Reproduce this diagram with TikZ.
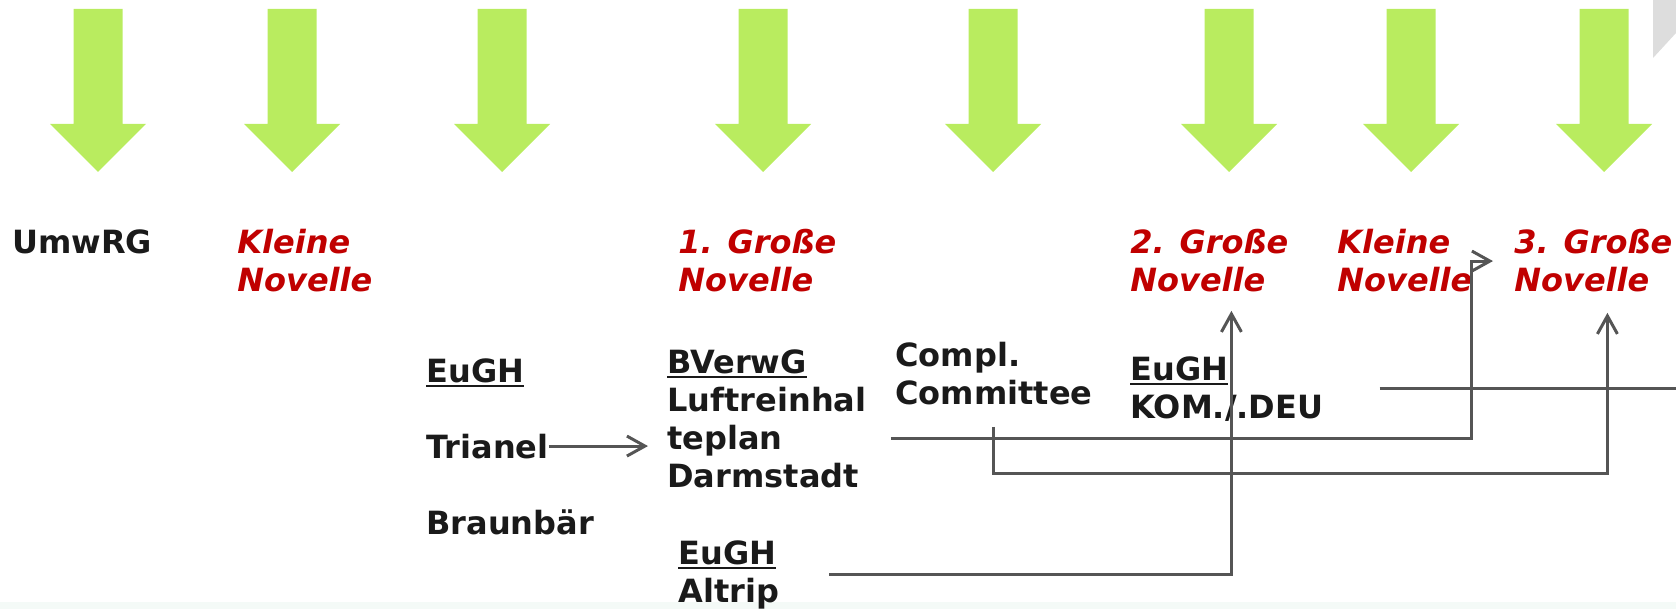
\documentclass[tikz,border=0pt]{standalone}
\usepackage{fontspec}
\setmainfont{DejaVu Sans}
\usepackage{tikz}
\usetikzlibrary{positioning, arrows.meta, calc}

\definecolor{pfeilgruen}{RGB}{185,236,95}
\definecolor{novellenrot}{RGB}{192,0,0}
\definecolor{textschwarz}{RGB}{26,26,26}
\definecolor{liniengrau}{RGB}{85,85,85}
\definecolor{eckgrau}{RGB}{221,221,221}
\definecolor{randgruen}{RGB}{244,250,247}

\newcommand{\unterstr}[1]{\setbox0\hbox{#1}\rlap{\rule[-2.6pt]{\wd0}{1.1pt}}\box0}

\begin{document}
\begin{tikzpicture}[
    x=0.5pt, y=-0.5pt,
    txt/.style = {anchor=base west, inner sep=0pt, align=left, font=\fontsize{16}{19}\selectfont\bfseries, text=textschwarz},
    % Style fuer die Novellen (rot, kursiv)
    novelle/.style = {txt, font=\fontsize{16}{19}\selectfont\bfseries\itshape, text=novellenrot},
    % Style fuer die Verbindungen (grau)
    verbindung/.style = {draw=liniengrau, line width=1.5pt},
    pfeil/.style = {verbindung, -{Straight Barb[length=9pt, width=10pt]}}
]
\useasboundingbox (0,0) rectangle (1676,609);
\coordinate (rand) at (1676,0);

% --- Hintergrund: Ecke oben rechts und Streifen unten ---
\fill[eckgrau] (1653,0) -- (1676,0) -- (1676,33) -- (1653,58) -- cycle;
\fill[randgruen] (0,602) rectangle (1676,609);

% --- Gruene Pfeile ---
\foreach \x in {98, 292, 502, 763, 993, 1229, 1411, 1604}
    \fill[pfeilgruen] (\x-24.5,9) -- (\x+24.5,9) -- (\x+24.5,124) -- (\x+48,124) -- (\x,172) -- (\x-48,124) -- (\x-24.5,124) -- cycle;

% --- Obere Zeile: Gesetz und Novellen (Basislinie der letzten Zeile) ---
\node[txt] (umwrg) at (12,254) {UmwRG};
\node[novelle] (kleine1) at (237,292) {Kleine\\Novelle};
\node[novelle] (grosse1) at (678,292) {1. Große\\Novelle};
\node[novelle] (grosse2) at (1130,292) {2. Große\\Novelle};
\node[novelle] (kleine2) at (1337,292) {Kleine\\Novelle};
\node[novelle] (grosse3) at (1514,292) {3. Große\\Novelle};

% --- Untere Zeile: Entscheidungen ---
\node[txt] (eugh1) at (426,382) {\unterstr{EuGH}};
\node[txt] (trianel) at (426,458) {Trianel};
\node[txt] (braunbaer) at (426,534) {Braunbär};
\node[txt] (bverwg) at (667,487) {\unterstr{BVerwG}\\Luftreinhal\\teplan\\Darmstadt};
\node[txt] (compl) at (895,404) {Compl.\\Committee};
\node[txt] (eugh2) at (1130,418) {\unterstr{EuGH}\\KOM./.DEU};
\node[txt] (altrip) at (678,602) {\unterstr{EuGH}\\Altrip};

% --- Verbindungen ---
\draw[pfeil, shorten >=9.5pt] (trianel.east) -- (trianel.east -| bverwg.west);
\draw[pfeil] ([xshift=12pt, yshift=-10pt]bverwg.east) -| ([xshift=-21.5pt]grosse3.west) -- ([xshift=-10.5pt]grosse3.west);
\draw[pfeil] ([yshift=-11pt]compl.south) -- ++(0,47) -| ([xshift=7pt, yshift=-10pt]grosse3.south);
\draw[pfeil] ([xshift=25pt]altrip.east) -| ([xshift=11pt, yshift=-9pt]grosse2.south);
\draw[verbindung] ([xshift=28pt]eugh2.east) -- ([xshift=28pt]eugh2.east -| rand);

\end{tikzpicture}
\end{document}
